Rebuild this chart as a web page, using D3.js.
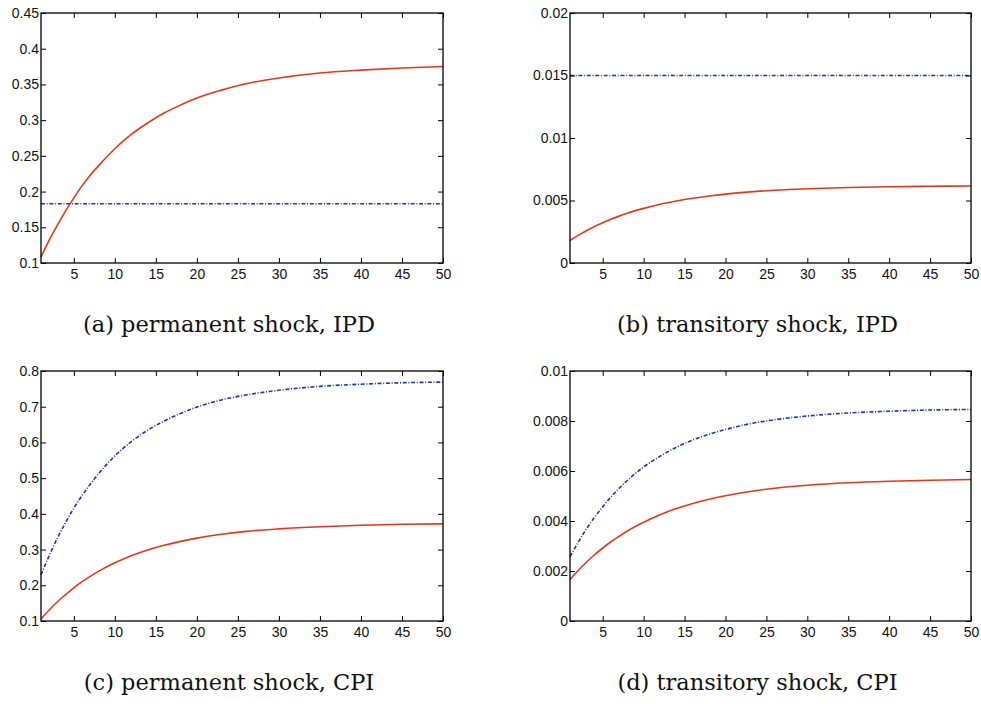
<!DOCTYPE html>
<html>
<head>
<meta charset="utf-8">
<script src="https://cdn.jsdelivr.net/npm/d3@7"></script>
<style>body{margin:0;background:#fff}</style>
</head>
<body>
<script>
// periodos en los que se leyeron los valores de las curvas
var periodos = [1, 2, 3, 4, 5, 6, 7, 8, 10, 12, 14, 16, 18, 20, 23, 26, 30, 35, 40, 45, 50];
var extremos = [1, 50];

// (a) permanente, IPD
var ipdPermRojo = [0.108, 0.132, 0.153, 0.173, 0.191, 0.208, 0.223, 0.236, 0.260, 0.280, 0.296, 0.310, 0.321, 0.331, 0.342, 0.351, 0.359, 0.366, 0.370, 0.373, 0.375];
var ipdPermAzul = [0.183, 0.183];
// (b) transitorio, IPD
var ipdTranRojo = [0.0018, 0.00221, 0.00258, 0.00292, 0.00322, 0.00350, 0.00375, 0.00398, 0.00437, 0.00470, 0.00496, 0.00518, 0.00536, 0.00551, 0.00569, 0.00582, 0.00594, 0.00604, 0.00610, 0.00614, 0.00616];
var ipdTranAzul = [0.015, 0.015];
// (c) permanente, CPI
var cpiPermRojo = [0.106, 0.131, 0.154, 0.174, 0.193, 0.210, 0.225, 0.239, 0.263, 0.283, 0.299, 0.312, 0.323, 0.332, 0.343, 0.351, 0.358, 0.364, 0.368, 0.371, 0.372];
var cpiPermAzul = [0.229, 0.283, 0.332, 0.376, 0.416, 0.451, 0.483, 0.512, 0.562, 0.602, 0.634, 0.660, 0.681, 0.699, 0.719, 0.733, 0.746, 0.757, 0.763, 0.767, 0.769];
// (d) transitorio, CPI
var cpiTranRojo = [0.00166, 0.00202, 0.00235, 0.00265, 0.00292, 0.00317, 0.00339, 0.00360, 0.00395, 0.00425, 0.00450, 0.00470, 0.00487, 0.00501, 0.00518, 0.00531, 0.00543, 0.00553, 0.00559, 0.00563, 0.00566];
var cpiTranAzul = [0.00257, 0.00315, 0.00368, 0.00415, 0.00457, 0.00496, 0.00531, 0.00562, 0.00616, 0.00659, 0.00695, 0.00724, 0.00747, 0.00766, 0.00789, 0.00805, 0.00820, 0.00832, 0.00839, 0.00844, 0.00846];

var ticksX = [5, 10, 15, 20, 25, 30, 35, 40, 45, 50];
var ticksA = [0.1, 0.15, 0.2, 0.25, 0.3, 0.35, 0.4, 0.45];
var ticksB = [0, 0.005, 0.01, 0.015, 0.02];
var ticksC = [0.1, 0.2, 0.3, 0.4, 0.5, 0.6, 0.7, 0.8];
var ticksD = [0, 0.002, 0.004, 0.006, 0.008, 0.01];

var titulos = ["(a) permanent shock, IPD", "(b) transitory shock, IPD", "(c) permanent shock, CPI", "(d) transitory shock, CPI"];

var ROJO = "#e2381a", AZUL = "#22359b";

function dibujarPanel(svg, izq, arriba, ancho, alto, ticksY, rojo, azul, xAzul, titulo) {
    var x = d3.scaleLinear().domain([1, 50]).range([0, ancho]);
    var y = d3.scaleLinear().domain([ticksY[0], ticksY[ticksY.length - 1]]).range([alto, 0]);
    var g = svg.append("g").attr("transform", `translate(${izq},${arriba})`);

    var linea = d3.line().x(function (d) { return x(d[0]); }).y(function (d) { return y(d[1]); }).curve(d3.curveMonotoneX);

    g.append("path").datum(d3.zip(xAzul, azul)).attr("d", linea)
        .attr("fill", "none").attr("stroke", AZUL).attr("stroke-width", 1.6).attr("stroke-dasharray", "4,1.7,1,1.7");
    g.append("path").datum(d3.zip(periodos, rojo)).attr("d", linea)
        .attr("fill", "none").attr("stroke", ROJO).attr("stroke-width", 1.6);

    var ejes = [
        d3.axisBottom(x).tickValues(ticksX).tickSize(-5).tickPadding(6).tickFormat(String),
        d3.axisTop(x).tickValues(ticksX).tickSize(-5).tickFormat(""),
        d3.axisLeft(y).tickValues(ticksY).tickSize(-5).tickPadding(2).tickFormat(String),
        d3.axisRight(y).tickValues(ticksY).tickSize(-5).tickFormat("")
    ];
    var posiciones = [[0, alto], [0, 0], [0, 0], [ancho, 0]];
    for (var i = 0; i < ejes.length; i++) {
        var eje = g.append("g").attr("transform", `translate(${posiciones[i][0]},${posiciones[i][1]})`).call(ejes[i]);
        eje.select(".domain").remove();
        eje.selectAll("line").attr("stroke", "#000").attr("stroke-width", 1);
        eje.selectAll("text").attr("fill", "#111").style("font-family", "'Liberation Sans', Arial, sans-serif").style("font-size", "14px");
    }
    g.append("rect").attr("width", ancho).attr("height", alto)
        .attr("fill", "none").attr("stroke", "#000").attr("stroke-width", 1.3);

    svg.append("text").attr("x", izq + ancho / 2 - 13).attr("y", arriba + alto + 69)
        .attr("text-anchor", "middle").style("font-family", "'DejaVu Serif', 'Liberation Serif', serif")
        .style("font-size", "22.5px").attr("fill", "#111").text(titulo);
}

window.onload = function () {
    var svg = d3.select("body").append("svg").attr("width", 981).attr("height", 704);
    svg.append("rect").attr("width", 981).attr("height", 704).attr("fill", "#fff");
    dibujarPanel(svg, 41, 13, 402, 250, ticksA, ipdPermRojo, ipdPermAzul, extremos, titulos[0]);
    dibujarPanel(svg, 570, 13, 401, 250, ticksB, ipdTranRojo, ipdTranAzul, extremos, titulos[1]);
    dibujarPanel(svg, 41, 371, 402, 250, ticksC, cpiPermRojo, cpiPermAzul, periodos, titulos[2]);
    dibujarPanel(svg, 570, 371, 401, 250, ticksD, cpiTranRojo, cpiTranAzul, periodos, titulos[3]);
};
</script>
</body>
</html>
